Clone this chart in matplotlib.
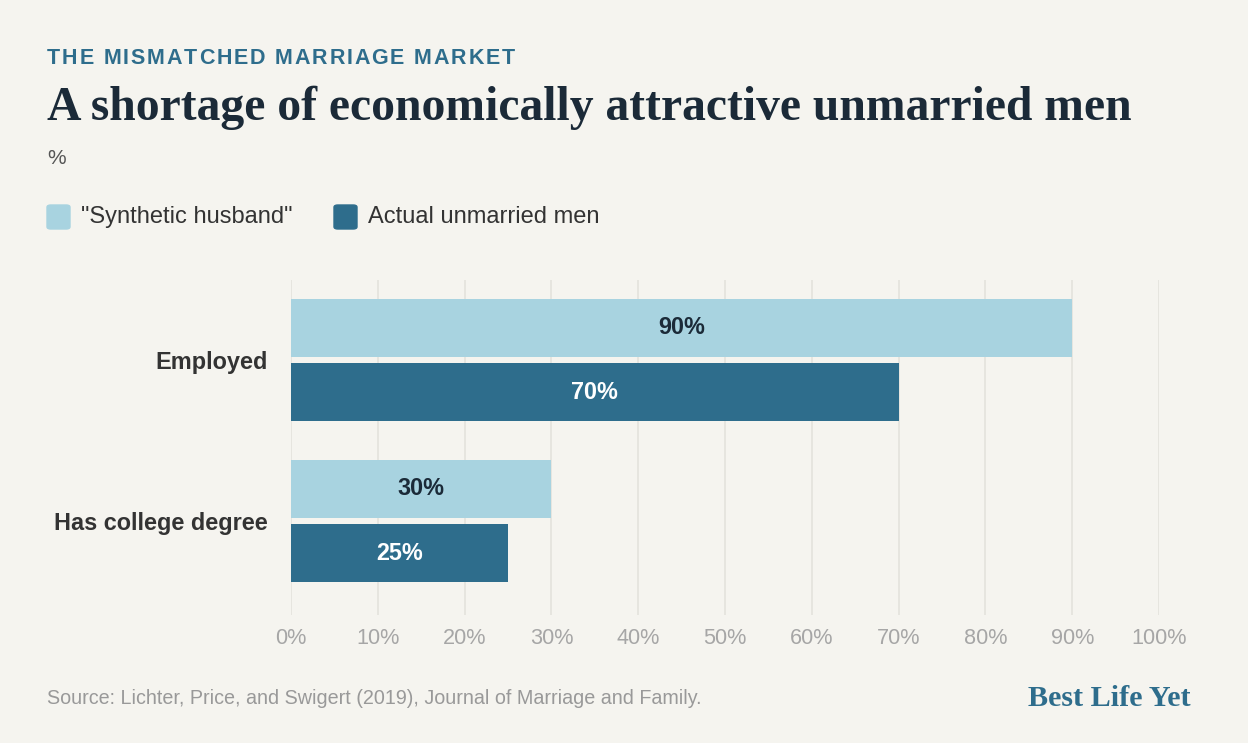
import numpy as np
import matplotlib.pyplot as plt
from matplotlib.patches import FancyBboxPatch

# data
categories = ['Employed', 'Has college degree']
synthetic = [90, 30]
actual = [70, 25]
series_names = ['"Synthetic husband"', 'Actual unmarried men']
xticks = [0, 10, 20, 30, 40, 50, 60, 70, 80, 90, 100]

bg = '#f5f4ef'
light = '#a8d3e0'
dark = '#2e6d8c'
navy = '#1b2a38'
serif = ['Liberation Serif', 'DejaVu Serif']

plt.rcParams['font.family'] = ['Liberation Sans', 'DejaVu Sans']

fig = plt.figure(figsize=(12.48, 7.43), dpi=100, facecolor=bg)
ax = fig.add_axes([291/1248, 1-615/743, 868/1248, 335/743], facecolor=bg)

y = np.arange(len(categories))
h = 0.36
off = 0.2
b1 = ax.barh(y - off, synthetic, height=h, color=light)
b2 = ax.barh(y + off, actual, height=h, color=dark)

for bar, v in zip(b1, synthetic):
    ax.text(bar.get_width()/2, bar.get_y() + bar.get_height()/2, f'{v}%',
            ha='center', va='center', fontsize=16.8, fontweight='bold', color=navy)
for bar, v in zip(b2, actual):
    ax.text(bar.get_width()/2, bar.get_y() + bar.get_height()/2, f'{v}%',
            ha='center', va='center', fontsize=16.8, fontweight='bold', color='white')

ax.set_xlim(0, 100)
ax.set_ylim(1.584, -0.497)
ax.set_xticks(xticks)
ax.set_xticklabels([f'{t}%' for t in xticks], fontsize=15.6, color='#a6a6a6')
ax.set_yticks(y)
ax.set_yticklabels(categories, fontsize=16.9, fontweight='bold', color='#333333')
ax.tick_params(axis='both', length=0)
ax.tick_params(axis='x', pad=9)
ax.tick_params(axis='y', pad=16.5)
ax.grid(axis='x', color='#e4e2dc', linewidth=1.2)
ax.set_axisbelow(True)
for s in ax.spines.values():
    s.set_visible(False)

# header text, kicker with letter spacing
renderer = fig.canvas.get_renderer()
x = 47
for ch in 'THE MISMATCHED MARRIAGE MARKET':
    t = fig.text(x/1248, 1-59/743, ch, fontsize=15.5, fontweight='bold',
                 color='#2e6d8c', va='center', ha='left')
    w = t.get_window_extent(renderer).width if ch != ' ' else 15.5*0.278*1.389
    x += w + 1.85

fig.text(47/1248, 1-108/743, 'A shortage of economically attractive unmarried men',
         fontsize=34.3, fontweight='bold', color=navy, va='center', ha='left', family=serif)
fig.text(47/1248, 1-158/743, '%', fontsize=15, color='#555555', va='center', ha='left')

# legend
for i, (name, col) in enumerate(zip(series_names, [light, dark])):
    x0 = [47, 334][i]
    fig.patches.append(FancyBboxPatch((x0/1248, 1-229/743), 23/1248, 24/743,
                                      boxstyle='round,pad=0,rounding_size=0.003',
                                      transform=fig.transFigure, color=col))
    fig.text((x0 + 34)/1248, 1-217/743, name, fontsize=17, color='#333333', va='center', ha='left')

# footer
fig.text(47/1248, 1-698/743, 'Source: Lichter, Price, and Swigert (2019), Journal of Marriage and Family.',
         fontsize=14.2, color='#999999', va='center', ha='left')
fig.text(1191/1248, 1-698/743, 'Best Life Yet', fontsize=21.7, fontweight='bold', color='#2e6d8c',
         va='center', ha='right', family=serif)

fig.savefig('out.png', dpi=100, facecolor=bg)
